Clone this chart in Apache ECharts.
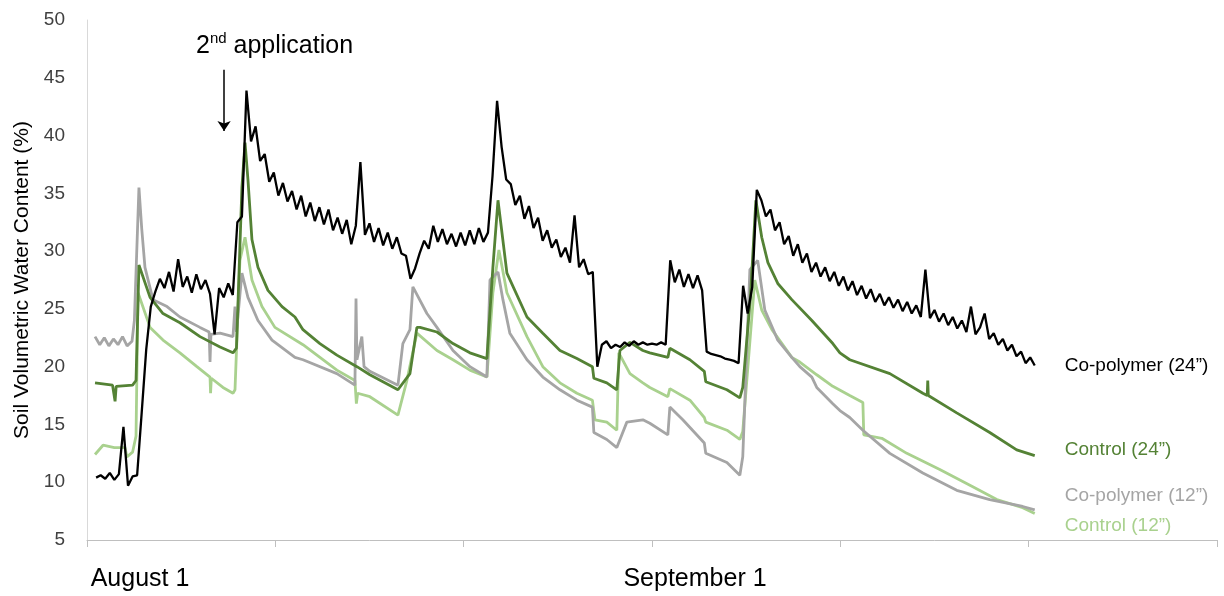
<!DOCTYPE html>
<html>
<head>
<meta charset="utf-8">
<script src="https://cdn.jsdelivr.net/npm/echarts@6/dist/echarts.min.js"></script>
<style>
html,body{margin:0;padding:0;background:#fff;}
#c{width:1224px;height:596px;}
</style>
</head>
<body>
<div id="c"></div>
<script>
// ---- Data (days since August 1, soil volumetric water content %) ----
const seriesNames = ['Co-polymer (24\u201D)', 'Control (24\u201D)', 'Co-polymer (12\u201D)', 'Control (12\u201D)'];
const yTicks = [5, 10, 15, 20, 25, 30, 35, 40, 45, 50];
const xLabelDays = [0, 31];
const xLabelText = ['August 1', 'September 1'];

// Co-polymer (24") logged every 0.25 day starting at day 0.5
const copoly24Start = 0.5;
const copoly24Step = 0.25;
const copoly24Values = [
  10.4, 10.6, 10.3, 10.8, 10.2, 10.7, 14.8, 9.7, 10.5, 10.6,
  16.0, 21.5, 25.2, 26.5, 27.6, 26.8, 28.2, 26.5, 29.3, 26.9,
  27.8, 26.4, 28.0, 26.7, 27.5, 26.3, 22.8, 26.8, 26.0, 27.2,
  26.2, 32.5, 33.0, 43.9, 39.5, 40.8, 37.8, 38.4, 36.0, 36.8,
  34.8, 35.9, 34.3, 35.2, 33.6, 34.8, 33.0, 34.2, 32.6, 33.8,
  32.3, 33.6, 31.8, 32.9, 31.5, 32.7, 30.6, 32.2, 37.7, 31.4,
  32.4, 30.8, 32.0, 30.5, 31.6, 30.2, 31.2, 29.8, 29.6, 27.6,
  28.5, 29.8, 30.9, 30.2, 32.2, 30.8, 31.9, 30.6, 31.5, 30.4,
  31.6, 30.5, 31.8, 30.6, 32.0, 30.8, 31.6, 36.5, 43.0, 39.0,
  36.2, 35.8, 34.0, 34.8, 32.8, 33.9, 32.0, 32.9, 30.9, 31.8,
  30.3, 31.0, 29.5, 30.3, 29.0, 33.1, 28.6, 29.3, 28.0, 28.2,
  20.0, 21.9, 22.2, 21.6, 21.9, 21.7, 22.1, 21.8, 22.2, 21.9,
  22.1, 21.9, 22.0, 21.9, 22.1, 21.9, 29.2, 27.3, 28.4, 26.9,
  28.0, 26.8, 27.9, 26.6, 21.3, 21.1, 21.0, 20.9, 20.7, 20.6,
  20.5, 20.3, 27.0, 24.6, 26.9, 35.3, 34.4, 33.0, 33.6, 31.8,
  32.5, 30.6, 31.3, 29.6, 30.6, 29.0, 29.8, 28.2, 29.0, 27.8,
  28.6, 27.4, 28.2, 27.0, 27.8, 26.6, 27.4, 26.2, 27.0, 25.9,
  26.7, 25.6, 26.3, 25.3, 26.0, 25.1, 25.8, 24.8, 25.6, 24.6,
  25.3, 24.3, 28.4, 24.2, 24.9, 23.9, 24.6, 23.6, 24.3, 23.3,
  24.0, 23.0, 25.2, 22.8, 23.4, 24.6, 22.4, 22.9, 21.9, 22.4,
  21.4, 21.9, 20.9, 21.3, 20.3, 20.8, 20.1
];

// Control (24") [day, value]
const control24 = [
  [0.44, 18.6], [1.4, 18.4], [1.54, 17.0], [1.6, 18.3], [2.5, 18.4], [2.69, 18.8], [2.85, 28.8],
  [3.46, 26.0], [4.17, 24.6], [5.10, 23.8], [6.20, 22.6], [7.30, 21.7], [8.01, 21.2], [8.2, 21.6],
  [8.5, 35.5], [8.67, 39.4], [8.83, 36.2], [9.05, 31.0], [9.38, 28.6], [9.93, 26.6], [10.70, 25.2],
  [11.41, 24.3], [11.85, 23.2], [12.78, 22.0], [13.71, 21.0], [14.81, 20.0], [15.52, 19.3],
  [17.06, 18.0], [17.72, 19.4], [18.10, 23.4], [18.27, 23.4], [19.20, 23.0], [20.08, 22.0],
  [21.01, 21.2], [21.94, 20.7], [22.27, 28.6], [22.55, 34.4], [23.04, 28.1], [24.14, 24.3],
  [25.01, 22.9], [25.95, 21.4], [26.88, 20.7], [27.73, 20.0], [27.81, 19.0], [28.52, 18.6],
  [29.07, 18.0], [29.24, 21.4], [29.79, 22.1], [30.50, 21.4], [30.88, 21.2], [31.87, 20.8],
  [31.98, 21.6], [33.08, 20.6], [33.87, 19.6], [33.95, 18.7], [35.11, 18.0], [35.82, 17.3],
  [35.98, 18.2], [36.4, 26.0], [36.70, 34.4], [37.02, 31.2], [37.36, 29.0], [37.90, 27.2],
  [38.67, 25.8], [39.77, 24.0], [40.92, 22.0], [41.31, 21.2], [41.85, 20.6], [44.05, 19.4],
  [45.86, 17.7], [46.1, 17.5], [46.13, 18.8], [46.16, 17.5], [47.72, 16.0], [49.53, 14.3],
  [51.01, 12.8], [52.0, 12.3]
];

// Co-polymer (12") [day, value]
const copoly12 = [
  [0.44, 22.6], [0.7, 21.9], [0.95, 22.5], [1.2, 21.8], [1.45, 22.4], [1.7, 21.9], [1.95, 22.6],
  [2.2, 21.8], [2.47, 22.2], [2.6, 24.0], [2.85, 35.5], [3.0, 32.0], [3.18, 28.6], [3.62, 25.8],
  [4.39, 25.2], [5.10, 24.3], [6.20, 23.4], [6.70, 23.0], [6.75, 20.4], [6.8, 22.8], [7.30, 22.9],
  [8.01, 22.6], [8.12, 25.2], [8.2, 23.0], [8.50, 28.1], [8.83, 26.0], [9.38, 24.0], [10.15, 22.3],
  [11.41, 20.8], [11.85, 20.6], [13.71, 19.4], [14.70, 18.4], [14.76, 25.9], [14.81, 20.6],
  [15.08, 22.6], [15.2, 20.0], [15.52, 19.6], [17.06, 18.4], [17.33, 22.0], [17.72, 23.2],
  [17.88, 26.9], [18.65, 24.6], [19.20, 23.4], [20.08, 21.4], [21.01, 20.0], [21.94, 19.1],
  [22.11, 27.5], [22.55, 28.2], [22.82, 25.8], [23.20, 22.9], [24.14, 20.6], [25.01, 19.1],
  [25.95, 18.0], [26.88, 17.1], [27.73, 16.5], [27.81, 14.3], [28.52, 13.7], [29.07, 13.0],
  [29.62, 15.2], [30.50, 15.4], [30.88, 15.1], [31.87, 14.1], [31.98, 16.5], [32.69, 15.4],
  [33.87, 13.4], [33.95, 12.5], [35.11, 11.7], [35.82, 10.6], [35.98, 12.2], [36.37, 28.4],
  [36.80, 29.2], [37.19, 24.9], [37.90, 22.3], [38.67, 20.8], [39.11, 20.0], [39.77, 19.1],
  [40.04, 18.2], [40.92, 16.8], [41.31, 16.2], [41.85, 15.6], [42.57, 14.5], [44.05, 12.5],
  [45.86, 10.8], [47.72, 9.3], [49.53, 8.5], [51.34, 7.9], [52.0, 7.6]
];

// Control (12") [day, value]
const control12 = [
  [0.44, 12.4], [0.88, 13.2], [1.5, 13.0], [2.08, 13.0], [2.19, 12.2], [2.5, 12.6], [2.69, 14.0],
  [2.80, 26.4], [3.46, 23.4], [4.17, 22.3], [5.10, 21.2], [6.03, 20.0], [6.75, 19.1], [6.78, 17.7],
  [6.82, 19.0], [7.46, 18.2], [8.01, 17.7], [8.12, 18.0], [8.39, 29.2], [8.67, 31.2], [9.05, 27.5],
  [9.60, 25.2], [10.31, 23.4], [11.85, 21.9], [12.78, 20.8], [13.71, 19.7], [14.70, 18.8],
  [14.78, 16.8], [14.85, 17.7], [15.52, 17.4], [17.06, 15.8], [17.55, 18.8], [18.10, 22.9],
  [19.20, 21.4], [20.08, 20.6], [21.01, 19.7], [21.94, 19.1], [22.27, 26.4], [22.60, 30.1],
  [23.04, 26.4], [24.14, 22.6], [25.01, 20.0], [25.95, 18.6], [26.88, 17.7], [27.73, 17.1],
  [27.87, 15.4], [28.52, 15.2], [29.07, 14.5], [29.18, 21.2], [29.79, 19.4], [30.50, 18.6],
  [30.88, 18.2], [31.87, 17.4], [31.98, 18.1], [33.08, 17.1], [33.87, 15.6], [33.95, 15.2],
  [35.11, 14.5], [35.82, 13.7], [35.98, 14.4], [36.64, 27.5], [37.02, 24.9], [37.58, 23.2],
  [38.67, 20.8], [39.11, 20.4], [40.04, 19.3], [40.92, 18.3], [41.85, 17.5], [42.57, 16.9],
  [42.62, 14.1], [43.61, 13.8], [44.98, 12.5], [46.79, 11.1], [48.60, 9.6], [49.92, 8.5],
  [51.34, 7.8], [52.0, 7.3]
];

// Annotation: 2nd application arrow [day, top value, bottom value]
const secondApplication = [7.52, 45.7, 40.4];

// ---- Chart ----
const copoly24 = copoly24Values.map((v, i) => [copoly24Start + i * copoly24Step, v]);
const sans = "'Liberation Sans', Arial, sans-serif";
const colors = ['#000000', '#548235', '#A5A5A5', '#A9D18E'];
const widths = [2.3, 2.8, 2.8, 2.8];
const endOffsets = [[0, 0], [0, -6], [0, -14], [0, 12]];

function mkSeries(idx, data, extra) {
  return Object.assign({
    name: seriesNames[idx],
    type: 'line',
    data: data,
    showSymbol: false,
    symbol: 'none',
    lineStyle: { color: colors[idx], width: widths[idx] },
    itemStyle: { color: colors[idx] },
    z: 10 - idx,
    endLabel: {
      show: true,
      formatter: '{a}',
      color: colors[idx],
      fontFamily: sans,
      fontSize: 19,
      distance: 30,
      offset: endOffsets[idx]
    }
  }, extra || {});
}

const chart = echarts.init(document.getElementById('c'), null, { renderer: 'canvas' });
chart.setOption({
  animation: false,
  backgroundColor: '#ffffff',
  grid: { left: 87, right: 7, top: 20, bottom: 56, containLabel: false },
  xAxis: {
    type: 'value',
    min: 0,
    max: 62,
    interval: 31 / 3,
    splitLine: { show: false },
    axisLine: { show: true, lineStyle: { color: '#BFBFBF', width: 1 } },
    axisTick: { show: true, inside: false, length: 7, lineStyle: { color: '#BFBFBF' } },
    axisLabel: {
      margin: 27,
      fontFamily: sans,
      fontSize: 25,
      color: '#000',
      formatter: function (v) {
        for (let k = 0; k < xLabelDays.length; k++) {
          if (Math.abs(v - xLabelDays[k]) < 0.01) return '{l' + k + '|' + xLabelText[k] + '}';
        }
        return '';
      },
      rich: {
        l0: { fontFamily: sans, fontSize: 25, color: '#000', padding: [0, 0, 0, 106] },
        l1: { fontFamily: sans, fontSize: 25, color: '#000', padding: [0, 0, 0, 86] }
      }
    }
  },
  yAxis: {
    type: 'value',
    min: yTicks[0],
    max: yTicks[yTicks.length - 1],
    interval: yTicks[1] - yTicks[0],
    name: 'Soil Volumetric Water Content (%)',
    nameLocation: 'middle',
    nameGap: 53,
    nameTextStyle: { fontFamily: sans, fontSize: 21, color: '#000' },
    splitLine: { show: false },
    axisLine: { show: true, lineStyle: { color: '#D9D9D9', width: 1 } },
    axisTick: { show: false },
    axisLabel: { fontFamily: sans, fontSize: 19, color: '#404040', margin: 22 }
  },
  series: [
    mkSeries(2, copoly12),
    mkSeries(3, control12),
    mkSeries(1, control24),
    mkSeries(0, copoly24, {
      markLine: {
        silent: true,
        symbol: ['none', 'arrow'],
        symbolSize: 10,
        lineStyle: { color: '#000', width: 1.5, type: 'solid' },
        label: { show: false },
        data: [[
          { coord: [secondApplication[0], secondApplication[1]] },
          { coord: [secondApplication[0], secondApplication[2]] }
        ]]
      }
    })
  ],
  graphic: [{
    type: 'text',
    left: 196,
    top: 31,
    style: {
      text: '{a|2}{s|nd}{a| application}',
      rich: {
        a: { fontFamily: sans, fontSize: 25, fill: '#000', lineHeight: 30 },
        s: { fontFamily: sans, fontSize: 15, fill: '#000', verticalAlign: 'top', lineHeight: 30 }
      }
    }
  }]
});
</script>
</body>
</html>
